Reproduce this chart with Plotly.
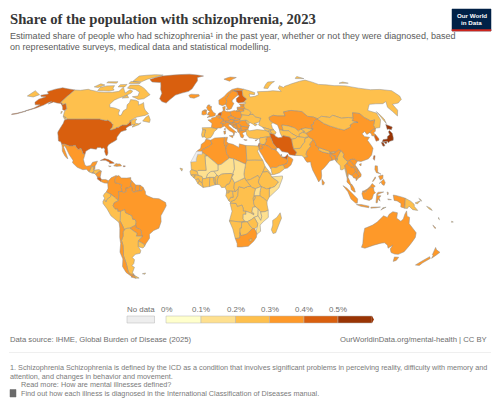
import plotly.graph_objects as go

W, H = 500, 407

# share of population with schizophrenia (%), estimated from the map colours
iso = ["USA","CAN","GRL","MEX","GTM","BLZ","SLV","HND","NIC","CRI","PAN","CUB","HTI","DOM","JAM","PRI","TTO",
       "COL","VEN","GUY","SUR","GUF","ECU","PER","BOL","BRA","PRY","URY","ARG","CHL","FLK",
       "ISL","IRL","GBR","NOR","SWE","FIN","DNK","EST","LVA","LTU","BLR","POL","DEU","NLD","BEL","FRA","ESP","PRT",
       "ITA","CHE","AUT","CZE","SVK","HUN","SVN","HRV","BIH","SRB","MNE","ALB","MKD","BGR","GRC","ROU","MDA","UKR",
       "TUR","RUS","CYP","KAZ","UZB","TKM","KGZ","TJK","AFG","PAK","IRN","IRQ","SYR","ISR","JOR","SAU","ARE","QAT",
       "KWT","OMN","YEM","GEO","AZE","ARM","IND","NPL","BTN","BGD","LKA","MMR","THA","LAO","KHM","VNM","MYS","IDN",
       "TLS","PNG","SLB","VUT","NCL","FJI","PHL","CHN","TWN","MNG","PRK","KOR","JPN",
       "MAR","DZA","TUN","LBY","EGY","SDN","SSD","ERI","ETH","SOM","KEN","UGA","RWA","TZA","COD","COG","GAB","GNQ",
       "CMR","CAF","TCD","NER","NGA","BEN","TGO","GHA","BFA","CIV","MLI","MRT","SEN","GNB","GIN","SLE","LBR","CPV",
       "AGO","NAM","BWA","ZMB","MWI","MOZ","ZWE","ZAF","LSO","MDG","AUS","NZL"]
share = [0.42,0.27,0.41,0.33,0.28,0.31,0.32,0.28,0.33,0.41,0.33,0.43,0.31,0.33,0.32,0.44,0.31,
         0.34,0.33,0.33,0.32,0.32,0.28,0.27,0.26,0.34,0.31,0.28,0.28,0.33,0.28,
         0.34,0.35,0.36,0.33,0.34,0.45,0.34,0.31,0.31,0.31,0.28,0.32,0.36,0.42,0.34,0.35,0.29,0.29,
         0.36,0.34,0.35,0.32,0.31,0.31,0.32,0.31,0.31,0.31,0.31,0.31,0.31,0.31,0.33,0.31,0.28,0.28,
         0.28,0.28,0.33,0.31,0.28,0.27,0.26,0.26,0.25,0.28,0.44,0.32,0.28,0.42,0.31,0.33,0.45,0.33,
         0.33,0.33,0.24,0.28,0.29,0.29,0.31,0.27,0.28,0.33,0.32,0.27,0.33,0.31,0.31,0.33,0.34,0.32,
         0.28,0.26,0.26,0.26,0.3,0.26,0.32,0.35,0.41,0.27,0.34,0.42,0.53,
         0.33,0.31,0.32,0.32,0.29,0.26,0.24,0.25,0.24,0.18,0.24,0.19,0.2,0.24,0.24,0.25,0.26,0.26,
         0.25,0.23,0.18,0.17,0.24,0.23,0.23,0.24,0.18,0.24,0.17,0.24,0.24,0.24,0.24,0.23,0.23,0.24,
         0.24,0.24,0.25,0.18,0.19,0.17,0.22,0.33,0.24,0.24,0.33,0.34]
no_data_iso = ["ESH"]

# outlines as "lon,lat lon,lat ..." rings, traced by eye from the map
outlines = {
 "USA": ["-124.7,48.4 -123,49 -116,49 -110,49 -102,49 -95.2,49 -94.6,48.7 -92,48.3 -89.6,48 -88.4,48.3 -84.9,46.9 -84.5,46.5 -83.6,46 -82.5,45.3 -82.1,43.6 -83.1,42.2 -82.7,41.7 -79,42.8 -79,43.3 -76.8,43.6 -76.3,44.2 -74.7,45 -71.5,45 -70.3,45.9 -69.2,47.4 -68.3,47.3 -67.8,45.7 -67,44.8 -68.8,44.4 -70.2,43.6 -70.8,42.8 -70,41.7 -72,41.2 -74,40.6 -74.9,38.9 -75.9,37.1 -75.5,35.3 -77.9,33.9 -79.2,33.2 -81,32 -81.4,30.5 -80.5,28.3 -80,26.7 -80.3,25.3 -81.1,25.1 -81.8,26.2 -82.8,27.8 -82.8,29 -84,30.1 -85.4,29.7 -86.5,30.4 -89,30.3 -89.4,29.2 -91.3,29.4 -93.8,29.7 -95,29.2 -97.1,27.9 -97.2,25.9 -99.1,26.4 -99.5,27.5 -101.4,29.8 -103.1,29 -104.7,30 -106.5,31.8 -108.2,31.3 -111,31.3 -114.8,32.5 -117.1,32.5 -118.5,34 -120.6,34.6 -122,36.9 -122.5,37.8 -123.8,39.5 -124.3,40.4 -124.1,43 -124,46.2",
         "-141,69.6 -141,65 -141,60.3 -139,59.9 -137.5,58.9 -135.5,59.7 -133.5,58.4 -130,55.9 -130.8,54.8 -133,55.3 -135,57 -137,58.2 -140,59.7 -144,60 -148,60.7 -151,59.3 -150,61 -152,60.5 -154,58.5 -158,56.5 -163,54.8 -164.8,54.6 -160,56.3 -157.5,58.7 -162,58.7 -165,60.5 -165,62.7 -161,64.4 -166,64.6 -168,65.6 -162,66.5 -166.5,68.3 -162,70.2 -156.6,71.3 -150,70.5",
         "-164,54.6 -170,52.9 -176,52 -176,51.6 -170,52.4 -164,54.2",
         "-155.9,20.2 -155,19.8 -155.7,19", "-158.2,21.6 -157.7,21.3 -158.1,21.3"],
 "CAN": ["-141,69.6 -135,69.3 -128,70.1 -125,69.5 -115,68.1 -108,67.8 -101,67.8 -95,68.5 -94.2,71.8 -90,69 -87.5,67.3 -85,69.7 -81.5,68.8 -81.5,67.2 -87,64.5 -90,63.5 -93,62 -94.5,59 -92.7,57 -88,56.5 -82.5,55.1 -82.2,52.9 -80.5,51.3 -79,51.6 -79,54.5 -77,56 -78.5,58.7 -77.5,60.2 -78,62.4 -73,62 -69.7,61 -68,58.5 -65.5,59.5 -64.5,60.3 -61.7,56.5 -60,55 -56,52.5 -58.5,51.4 -65,50.3 -67,49.3 -70,47.5 -65.5,49.2 -64.5,48.9 -65,47.5 -64.5,46.2 -61.5,45.8 -60,46.5 -61,45.3 -66,43.6 -66,44.5 -64.5,45.4 -67,45.2 -67.8,45.7 -68.3,47.3 -69.2,47.4 -70.3,45.9 -71.5,45 -74.7,45 -76.3,44.2 -76.8,43.6 -79,43.3 -79,42.8 -82.7,41.7 -83.1,42.2 -82.1,43.6 -82.5,45.3 -83.6,46 -84.5,46.5 -84.9,46.9 -88.4,48.3 -89.6,48 -92,48.3 -94.6,48.7 -95.2,49 -102,49 -110,49 -116,49 -123,49 -125,50 -128,51 -130,54 -130,55.9 -133.5,58.4 -135.5,59.7 -137.5,58.9 -139,59.9 -141,60.3 -141,65",
         "-62,66 -66,63 -71,62.5 -78,64.5 -73,65 -74,68 -80,70 -89,71 -89,73.5 -80,73.5 -72,71 -66,68",
         "-117,69 -105,68.7 -101,69.5 -104,71 -105,73 -113,72.8 -118,71.5",
         "-90,76.5 -80,76.2 -76,78.5 -68,80.5 -62,82.5 -72,83 -90,81.5 -90,78",
         "-92,74.7 -80,74.7 -80,75.6 -92,76.5", "-125,72 -120,71.5 -116,73.5 -122,74.5",
         "-117,75.3 -106,75 -106,76.2 -117,76.2", "-100,72 -93,72 -93,74 -100,73.8",
         "-59,47.6 -53,46.7 -53,48.5 -55.5,51.5 -57.5,50", "-128,50.8 -125,50 -123.5,48.4 -125,48.8",
         "-87,63.5 -81,63.8 -84,65.7", "-133,54 -131.7,54 -131.5,52.5"],
 "GRL": ["-73,78.2 -68,76 -58,75.5 -54,70 -51,67 -51,63 -48,61 -43.5,59.9 -41,62.5 -37,65.7 -25,68.5 -22,70.5 -20,74 -18,77 -19,80 -12,81.5 -30,83.5 -50,82.5 -62,81.5 -68,80"],
 "MEX": ["-117.1,32.5 -114.8,32.5 -111,31.3 -108.2,31.3 -106.5,31.8 -104.7,30 -103.1,29 -101.4,29.8 -99.5,27.5 -99.1,26.4 -97.2,25.9 -97.7,22.5 -96,19 -94.5,18.2 -91.8,18.6 -90.5,20.8 -87,21.5 -87.7,19.5 -88.3,18.5 -89.1,17.9 -91,17.8 -91,16.9 -92.2,14.5 -94.5,16.2 -97,15.9 -101.5,17.5 -105.5,20.4 -105.4,22 -109,25.6 -112.7,29.9 -114.7,31.7 -114.8,30.5 -111,25.5 -109.5,23.1 -110.3,23.3 -112.3,25 -115,28 -115.8,30.3"],
 "GTM": ["-92.2,14.5 -91,16.9 -91,17.8 -89.1,17.9 -89.2,15.9 -88.3,15.7 -89.2,14.3 -90.1,13.8"],
 "BLZ": ["-89.1,17.9 -88.3,18.5 -88.2,16.2 -89.2,15.9"],
 "SLV": ["-90.1,13.8 -89.2,14.3 -87.8,13.4"],
 "HND": ["-89.2,14.3 -88.3,15.7 -85,16 -83.2,15 -84.8,14.7 -87.3,13 -87.8,13.4"],
 "NIC": ["-87.3,13 -84.8,14.7 -83.2,15 -83.7,11 -85.7,11.1"],
 "CRI": ["-85.7,11.1 -83.7,11 -82.6,9.6 -83,8.3 -85.7,9.9"],
 "PAN": ["-83,8.3 -82.6,9.6 -79.5,9.6 -77.4,8.7 -77.9,7.2 -80.4,7.3 -81.8,7.8"],
 "CUB": ["-84.9,21.9 -82,23.2 -79,22.5 -75,20.7 -74.2,20.2 -77.7,19.9 -78,20.8 -81,22 -83,22.1"],
 "HTI": ["-74.4,18.4 -72,18.1 -71.7,19.7 -73,19.9"],
 "DOM": ["-72,18.1 -68.5,18.4 -69.8,19.7 -71.7,19.7"],
 "JAM": ["-78.3,18.4 -76.3,18.2 -77.2,17.8"],
 "PRI": ["-67.2,18.5 -65.7,18.4 -66,17.9 -67.2,17.9"],
 "TTO": ["-61.9,10.7 -61,10.8 -61,10.1 -61.9,10.1"],
 "COL": ["-77.4,8.7 -75.6,10.7 -72,12.2 -71.3,11.8 -72.5,10 -72.5,7.5 -70,7 -67.5,6.2 -67.8,4.5 -67.2,1.8 -69.8,1.7 -69.5,-0.5 -70,-4.2 -72,-2.4 -75.2,-0.1 -78.8,1.4 -77.5,3.8 -77.9,7.2"],
 "VEN": ["-71.3,11.8 -70,12.1 -68,10.6 -64,10.5 -62,10.7 -60,8.5 -61,6.8 -60.7,5.2 -62.8,4 -64.5,4 -64,1.9 -66,1 -67.2,1.8 -67.8,4.5 -67.5,6.2 -70,7 -72.5,7.5 -72.5,10"],
 "GUY": ["-60,8.5 -57.2,6 -57.5,3.3 -56.5,1.9 -58.8,1.2 -60,2.5 -59.8,4.5 -60.7,5.2 -61,6.8"],
 "SUR": ["-57.2,6 -54,5.9 -54.5,2.3 -56.5,1.9 -57.5,3.3"],
 "GUF": ["-54,5.9 -52,4.7 -51.6,4.2 -52.7,2.3 -54.5,2.3"],
 "ECU": ["-78.8,1.4 -75.2,-0.1 -75.5,-1.5 -78.3,-3.4 -79,-5 -80.4,-3.4 -80,-2.5 -81,-1 -80,0.5"],
 "PER": ["-80.4,-3.4 -79,-5 -78.3,-3.4 -75.5,-1.5 -75.2,-0.1 -72,-2.4 -70,-4.2 -73,-5.5 -74,-7.5 -72.5,-9.5 -70.6,-9.5 -70.6,-11 -68.7,-11 -69.2,-16 -69.5,-17.5 -70.4,-18.3 -76,-14 -78.5,-9.5 -81.3,-6 -81.3,-4.5"],
 "BOL": ["-68.7,-11 -65.5,-9.8 -65,-12 -60.5,-13.8 -60,-16.2 -58.3,-16.3 -57.6,-18 -58.2,-20 -62.7,-22 -65,-22.1 -67,-23 -68.4,-19.5 -69.5,-17.5 -69.2,-16"],
 "BRA": ["-51.6,4.2 -50,1.7 -50,0 -48.5,-1 -44.3,-2.6 -40,-2.9 -35.2,-5.4 -34.8,-7.5 -37,-11 -39,-14 -39,-17.8 -41,-22 -45,-23.5 -48.5,-26 -48.7,-28.5 -52,-32 -53.4,-33.7 -53.5,-32.5 -57.6,-30.2 -54,-27.2 -54.6,-25.6 -54.3,-24 -55.8,-22.3 -57.9,-22 -58.2,-20 -57.6,-18 -58.3,-16.3 -60,-16.2 -60.5,-13.8 -65,-12 -65.5,-9.8 -68.7,-11 -70.6,-11 -70.6,-9.5 -72.5,-9.5 -74,-7.5 -73,-5.5 -70,-4.2 -69.5,-0.5 -69.8,1.7 -67.2,1.8 -66,1 -64,1.9 -64.5,4 -62.8,4 -60.7,5.2 -59.8,4.5 -60,2.5 -58.8,1.2 -56.5,1.9 -54.5,2.3 -52.7,2.3"],
 "PRY": ["-58.2,-20 -57.9,-22 -55.8,-22.3 -54.3,-24 -54.6,-25.6 -54,-27.2 -58.6,-27.2 -57.7,-25.3 -60,-24 -62.7,-22"],
 "URY": ["-57.6,-30.2 -53.5,-32.5 -53.4,-33.7 -54.9,-34.9 -58.4,-34 -58.1,-32"],
 "ARG": ["-65,-22.1 -62.7,-22 -60,-24 -57.7,-25.3 -58.6,-27.2 -54,-27.2 -57.6,-30.2 -58.1,-32 -58.4,-34 -57,-36.5 -58,-38.3 -62,-39 -65,-41 -63.8,-42.5 -65.3,-45 -67.5,-46.5 -65.8,-47.5 -69,-51 -68.4,-52.4 -72,-52 -72.3,-50 -71.5,-45 -71.7,-40 -70.5,-36 -70,-33 -70.4,-30 -68.5,-27 -68.3,-24.5 -67,-23",
         "-68.6,-52.7 -65.3,-54.8 -68.6,-54.9"],
 "CHL": ["-70.4,-18.3 -69.5,-17.5 -68.4,-19.5 -67,-23 -68.3,-24.5 -68.5,-27 -70.4,-30 -70,-33 -70.5,-36 -71.7,-40 -71.5,-45 -72.3,-50 -72,-52 -68.4,-52.4 -71,-53.8 -74.5,-51 -75.5,-47 -73,-42 -73.7,-37.5 -71.5,-32 -71.3,-28 -70.3,-22",
         "-68.6,-52.7 -68.6,-54.9 -72,-54"],
 "FLK": ["-61,-51.8 -58,-51.3 -59,-52.2"],
 "ISL": ["-24,65.5 -22,66.4 -18,66.2 -14.5,66.2 -13.6,65 -18.5,63.4 -22.5,63.9"],
 "IRL": ["-10,52 -10,54.2 -8,55.2 -7.3,55.2 -8,54.5 -6.2,54.2 -6,52.2 -8.5,51.7"],
 "GBR": ["-5.5,50 -1,50.7 1.4,51.2 1.7,52.7 0,53.4 -1.6,55.2 -2,56 -1.8,57.6 -4,57.6 -3,58.6 -5,58.6 -6.2,56.8 -4.9,55 -3,54 -4.5,53.3 -5.2,51.8 -3,51.4",
         "-6.2,54.2 -8,54.5 -7.3,55.2 -5.7,55"],
 "NOR": ["5,59 5,62 10,64.5 14,67.5 19,70 25,71.1 31,70.2 29,69 25.5,69 20.5,69 18,68.5 15,66 14,64.5 12,63.5 12.3,61 11.2,59 8,58.1",
         "12,78.5 20,80.5 27,80 18,76.7"],
 "SWE": ["11.2,59 12.3,61 12,63.5 14,64.5 15,66 18,68.5 20.5,69 23.7,67.9 24,65.8 21.5,64.5 17.5,62 17.3,60.6 18.8,59.8 16.5,57 16,56.2 14.3,55.5 13,55.4 11.8,57.5"],
 "FIN": ["20.5,69 25.5,69 29,69 28.5,65 31.5,62.9 27.8,60.5 23,59.9 21.4,61 21.5,63 25,65 24,65.8 23.7,67.9"],
 "DNK": ["8.2,57 10.6,57.7 10.3,56 9.9,54.8 8.6,54.9", "11,55.7 12.5,56 12.3,55"],
 "EST": ["23.5,59.2 28,59.4 27.5,57.6 24.5,58"],
 "LVA": ["21,57 24,57.2 24.5,58 27.5,57.6 28,56 26.5,55.7 21,56.1"],
 "LTU": ["21,56.1 26.5,55.7 26.7,54.3 23.5,54 22.8,54.4 21,55.3"],
 "BLR": ["23.5,54 26.7,54.3 26.5,55.7 28,56 31,55 32.7,53.4 31,52 30.5,51.3 24,51.7 23.6,52.6"],
 "POL": ["14.2,53.9 18.5,54.8 19.8,54.4 22.8,54.4 23.5,54 23.6,52.6 24,51.7 24,50.5 22.6,49.1 19,49.5 15,51 14.7,52.5"],
 "DEU": ["6.9,53.5 8.6,54.9 9.9,54.8 11,54 14.2,53.9 14.7,52.5 15,51 12.2,50.3 13.8,48.7 13,47.5 9.6,47.5 7.6,47.6 8.2,49 6.3,49.5 6,50.2 5.8,50.8 6,51 7,52.3"],
 "NLD": ["3.4,51.4 4.7,53 6.9,53.5 7,52.3 6,51 5.8,50.8 5,51.4"],
 "BEL": ["2.5,51.1 3.4,51.4 5,51.4 5.8,50.8 6,50.2 5.8,49.5 4,50"],
 "FRA": ["2.5,51.1 4,50 5.8,49.5 6.3,49.5 8.2,49 7.6,47.6 6,46.2 7.7,45.9 7.5,43.8 6,43 3.1,43 3,42.4 -1.8,43.3 -1.2,46 -4.7,48.4 -1.5,48.7 -1.6,49.7 1.5,50.1",
         "8.6,42.3 9.5,43 9.5,41.5"],
 "ESP": ["-9.2,43.2 -1.8,43.3 3,42.4 0.5,40.6 -0.3,39 -2,36.8 -5.5,36 -6.9,37.2 -7.4,37.2 -7,39.5 -6.3,41.7 -8.8,41.9"],
 "PRT": ["-8.8,41.9 -6.3,41.7 -7,39.5 -7.4,37.2 -8.9,37 -9.5,38.7"],
 "ITA": ["7.7,45.9 9,45.9 10.5,46.8 13.7,46.5 13.6,45.5 12.3,45.3 12.5,44.2 13.6,43.5 16,41.9 18.5,40.1 17,40.4 16.6,39.2 16,38 15.7,40 12.5,41.4 10.5,43 8.8,44.4 7.5,43.8",
         "12.4,38 15.6,38.2 15,36.7", "8.2,41 9.7,41 9.5,39.1 8.5,39"],
 "CHE": ["6,46.2 7.6,47.6 9.6,47.5 10.5,46.8 9,45.9 7.7,45.9"],
 "AUT": ["9.6,47.5 13,47.5 13.8,48.7 16.9,48.6 17,47.7 16,46.7 13.7,46.5 10.5,46.8"],
 "CZE": ["12.2,50.3 15,51 19,49.5 16.9,48.6 13.8,48.7"],
 "SVK": ["16.9,48.6 19,49.5 22.6,49.1 22.1,48.4 18.8,47.9 17,47.7"],
 "HUN": ["17,47.7 18.8,47.9 22.1,48.4 22.9,47.9 21,46.2 18.8,45.9 16,46.7"],
 "SVN": ["13.7,46.5 16,46.7 15.5,45.5 13.6,45.5"],
 "HRV": ["13.6,45.5 15.5,45.5 16,46.7 18.8,45.9 19,45 16,45 15.8,44.2 18.5,42.5 16,43.5 15,44.6"],
 "BIH": ["16,45 19,45 19.2,43.5 18.5,42.5 15.8,44.2"],
 "SRB": ["19,45 18.8,45.9 21,46.2 22.5,44.2 22.5,42.4 21,42.5 20,42.8 19.2,43.5"],
 "MNE": ["18.5,42.5 19.2,43.5 20,42.8 19.3,41.9"],
 "ALB": ["19.3,41.9 20,42.8 21,42.5 20.8,41 20.6,40 19.4,40.4"],
 "MKD": ["21,42.5 22.5,42.4 23,41.3 20.8,41"],
 "BGR": ["22.5,44.2 28.6,43.7 27.7,42 26.3,41.8 23,41.3 22.5,42.4"],
 "GRC": ["20.6,40 20.8,41 23,41.3 26.3,41.8 26,40.8 23.5,40 23,39.3 24,38 23,36.5 21.5,37 21,38.5", "23.6,35.5 26.3,35.2 24.8,34.9"],
 "ROU": ["21,46.2 22.9,47.9 26.6,48.2 28.2,45.5 29.6,45 28.6,43.7 22.5,44.2"],
 "MDA": ["26.6,48.2 28,48.1 30,46.4 28.2,45.5"],
 "UKR": ["22.1,48.4 22.6,49.1 24,50.5 24,51.7 30.5,51.3 31,52 34,52.3 35.5,50.4 40,49.6 38.2,47.1 35,46.2 33.5,46 36,45.4 34,44.4 32.6,45.5 30.7,46.4 30,46.4 28,48.1 26.6,48.2 22.9,47.9"],
 "TUR": ["26,40.8 26.3,41.8 27.7,42 29,41.2 35,42 41.6,41.5 43.7,41 44.8,39.7 44.8,37.2 42.3,37.2 36.5,36.6 36,36 32,36.1 30.5,36.4 28,36.6 26.3,38.5 26.2,39.8"],
 "RUS": ["28,59.4 30,60 27.8,60.5 31.5,62.9 28.5,65 29,69 31,70.2 36,69 41,67.5 40,66 35,66.5 35,64.3 40,64.8 44,66 44,68.3 54,68.5 60,69 68,68.5 67,71 70,73 73,71.5 75,72.5 80,73.5 90,75.5 104,77.7 113,74 128,73 140,72.8 150,71 160,69.8 170,70 180,69 180,65 177,62.5 170,60 163,59 162,55 156.8,51 155.7,57 160,61 155,59.5 142,59 135.5,54.8 141,53 140,48.5 135,43.3 132,43 130.7,42.5 131,44.8 135,48.4 131,47.7 127.5,50 126,52.7 120.5,53.2 117.8,49.5 114,50 108,49.5 102,51.5 98.5,50 92,50.8 87.8,49.2 85,50.2 80,50.8 77,54 71,54.5 68,54.8 61,53.8 61,51 55,51 51,51.5 47,50 47,48.2 49,46.5 47.5,45.5 47.7,43.2 48.5,41.8 46.5,41.8 40,43.5 37,45 38.2,47.1 40,49.6 35.5,50.4 34,52.3 31,52 32.7,53.4 31,55 28,56 27.5,57.6",
         "19.8,54.4 22.8,54.4 21,55.3", "-180,69 -175,67.5 -170,66 -173,64.3 -180,65", "142,54 143.5,49 142.5,46 142,49",
         "52,71 56,70.7 68,76.5 60,76", "95,79 105,79 100,81", "137,75 147,75 143,76"],
 "CYP": ["32.3,35 34.5,35.6 33,34.6"],
 "KAZ": ["47,48.2 47,50 51,51.5 55,51 61,51 61,53.8 68,54.8 71,54.5 77,54 80,50.8 85,50.2 87.3,49.1 83,47 82.3,45.5 80,45 80.3,42.2 74.5,43 70.5,42.3 68,41 66,43 61,44.4 56,45 56,41.3 53,42 52.5,45 49,46.5"],
 "UZB": ["56,45 61,44.4 66,43 68,41 70.5,42.3 73,40.8 71,40.2 68,39 67.5,37.2 66,37.4 62,39.5 60.5,41.2 56,41.3"],
 "TKM": ["53,42 56,41.3 60.5,41.2 62,39.5 66,37.4 64.5,36.3 61,35.6 60,37 55,38 53.9,37.3 53,40"],
 "KGZ": ["70.5,42.3 74.5,43 80.3,42.2 76,40.4 73.7,39.5 71,40.2 73,40.8"],
 "TJK": ["68,39 71,40.2 73.7,39.5 75,37.4 74.8,37.2 71.5,36.8 67.5,37.2"],
 "AFG": ["61,35.6 64.5,36.3 66,37.4 67.5,37.2 71.5,36.8 74.8,37.2 71.5,36 70.8,33.8 69.5,33 66.3,29.8 61,29.5 60.9,31.5 60.8,33.5"],
 "PAK": ["61,29.5 66.3,29.8 69.5,33 70.8,33.8 71.5,36 74.8,37.2 77.8,35.5 74.3,32.5 74.5,31 71,28 70,26 71,24.4 68.2,23.7 66.8,25 61.6,25.2 63,27.2"],
 "IRN": ["44.8,39.7 48,39 49,37.5 51,36.7 54,37 53.9,37.3 55,38 60,37 61,35.6 60.8,33.5 60.9,31.5 61,29.5 63,27.2 61.6,25.2 57.5,25.6 56.5,27.1 52,27.7 50,30 48.5,30 47.7,31 46,33 45.5,35 44.8,37.2"],
 "IRQ": ["44.8,37.2 45.5,35 46,33 47.7,31 48.5,30 47.7,29.4 46.5,29.1 44.7,29.2 42,31.2 39,32.2 41,34.5 41,36 42.3,37.2"],
 "SYR": ["36,36 36.5,36.6 42.3,37.2 41,36 41,34.5 39,32.2 36.8,32.4 35.9,33.3 35.9,35"],
 "ISR": ["34.9,29.5 34.2,31.3 35,33 35.9,33.3 35.6,32.5 35.4,31.3"],
 "JOR": ["34.9,29.5 35.4,31.3 35.6,32.5 36.8,32.4 39,32.2 37,31 38,30 36,29.2"],
 "SAU": ["34.9,29.5 36,29.2 38,30 37,31 39,32.2 42,31.2 44.7,29.2 46.5,29.1 47.7,28.5 48.8,27.5 50.2,25.6 50.8,24.8 51.6,24.2 55.2,22.7 55.7,22 55,20 52,19 49,18.5 46.8,17.3 43.4,17.5 42.7,16.4 41,19 39,21.5 37,25 35,28"],
 "ARE": ["51.6,24.2 54,24.2 56,26 56.3,24.9 55.9,24 55.2,22.7"],
 "QAT": ["50.8,24.8 51.2,26.1 51.6,25"],
 "KWT": ["46.5,29.1 47.7,28.5 48.3,29.5 47.7,29.4"],
 "OMN": ["55.2,22.7 55.9,24 56.3,24.7 58.6,23.6 59.8,22.5 57.8,19 55,17 53,16.7 52,19 55,20 55.7,22"],
 "YEM": ["43.4,17.5 46.8,17.3 49,18.5 52,19 53,16.7 49,14 45,12.8 43.5,12.7 42.7,16.4"],
 "GEO": ["40,43.5 46.5,41.8 46,41 43.7,41 41.6,41.5"],
 "AZE": ["46.5,41.8 48.5,41.8 50,40.3 49,39 48,39 46,39.5 45.5,41 46,41"],
 "ARM": ["43.7,41 45.5,41 46,39.5 44.8,39.7"],
 "IND": ["68.2,23.7 71,24.4 70,26 71,28 74.5,31 74.3,32.5 77.8,35.5 79,32.8 78.8,31.3 81,30.2 80,28.8 83,27.4 88,26.4 88.2,27.9 88.8,27.3 89,26.7 92,26.9 95.5,29 97.3,28.3 95,26 93.5,24 93,22 92,23.6 91.5,24 92,25 89.8,25.3 88.5,26.4 88,24.5 89,24 89,22 87,21.5 85,19.5 82,16.8 80,15.5 80,12 79.5,10 77.5,8 76,11 73.6,15.8 72.8,19 72.8,21 70,20.8 68.9,22.3"],
 "NPL": ["81,30.2 88.2,27.9 88,26.4 83,27.4 80,28.8"],
 "BTN": ["88.8,27.3 92,27.8 92,26.9 89,26.7"],
 "BGD": ["88.5,26.4 89.8,25.3 92,25 91.5,24 92,23.6 92.4,20.8 91,22.5 89,22 89,24 88,24.5"],
 "LKA": ["80,9.7 81.8,7.5 81,6.1 80,6.2"],
 "MMR": ["92.4,20.8 92,23.6 93,22 93.5,24 95,26 97.3,28.3 98.7,25.9 97.7,24.2 99.5,22 101.1,21.5 100.1,20.4 97.7,18.5 98.6,15.8 99,11 98.7,10.2 98,14 97.5,16.8 95.5,15.8 94.3,16 94.5,18.5"],
 "THA": ["100.1,20.4 100.5,19.5 102,17.9 104.8,17.4 105.5,14.5 102.5,12.2 101,12.7 100,13.4 99.3,11 100,9.5 101,6.8 102,6.2 100.8,5.6 99.6,6.7 98.3,8 98.7,10.2 99,11 98.6,15.8 97.7,18.5"],
 "LAO": ["100.1,20.4 101.1,21.5 102.2,22.4 103.5,20.5 105,18.7 106.8,16.4 107.5,15 106,13.9 105.5,14.5 104.8,17.4 102,17.9 100.5,19.5"],
 "KHM": ["102.5,12.2 105.5,14.5 106,13.9 107.5,12.5 106,10.8 105,10.4 103.5,10.6"],
 "VNM": ["102.2,22.4 105.5,23 108,21.6 105.7,19 107,17 109.3,13 109,11.5 106.8,10.4 105.2,8.7 105,10.4 106,10.8 107.5,12.5 106,13.9 107.5,15 106.8,16.4 105,18.7 103.5,20.5"],
 "MYS": ["100.8,5.6 102,6.2 103.4,4 104.2,1.4 103.4,1.5 101.3,3",
         "109.6,2 111.3,1.2 113,3 115.8,4.7 117.6,4.2 119,5.2 116.8,7 115.2,5 113,3.4 111,2.4"],
 "IDN": ["95.3,5.6 98,4 103.6,-1 106,-3 105.8,-5.8 104.5,-5.7 101,-3 98.7,1.7", "105.2,-6.7 108.5,-6.6 114.5,-7.7 114.5,-8.7 108.5,-7.8",
         "109,0.3 109.6,2 111.3,1.2 113,3 115.8,4.7 117.6,4.2 118,2 119,1 117.5,0 116.5,-3 114.5,-4 110.2,-3",
         "119.5,-5.5 120,0.5 121,1.3 125,1.5 120.7,0 120.5,-1 123,-1 121.7,-2.5 122.5,-4.5 121,-3 120.5,-5.5",
         "132,-0.5 134,-0.8 138,-1.7 141,-2.6 141,-9.1 138,-8.2 138,-6 135,-4.3 132.8,-4",
         "116,-8.4 119,-8.3 123,-8.3 119.8,-8.8 116,-9", "123.5,-10.3 125,-8.7 125,-9.4", "128,-3 130.8,-3.5 128.5,-3.6", "127.5,1.5 128,-0.5 128.5,1"],
 "TLS": ["125,-8.7 127.2,-8.4 125,-9.4"],
 "PNG": ["141,-2.6 145,-4.5 147.7,-6.5 148,-8 150.8,-10.5 147,-10 144,-7.7 143,-9.2 141,-9.1", "148.3,-5.6 152.2,-4.2 150,-6.3", "150.8,-2.7 153,-4.5 152.5,-3.5"],
 "SLB": ["157,-7.8 160,-9 161.5,-10.5 159,-9.5"],
 "VUT": ["167,-15 168,-16.5 167.2,-16"],
 "NCL": ["164,-20 167,-22 166,-22"],
 "FJI": ["177.3,-17.5 178.7,-18 177.4,-18.2"],
 "PHL": ["120.5,18.5 122.2,18.4 122,16 121.7,14.4 124,13 123,13.5 120.7,14 119.9,16", "122,7 125.5,9.8 126.5,7.5 125.5,5.7 124,6.5 123.5,8",
         "122,11.8 125.4,12.5 125,10.2 123,9.2", "117.2,8.4 119.5,11.3 119.7,10.5 117.5,8.2"],
 "CHN": ["73.7,39.5 76,40.4 80.3,42.2 80,45 82.3,45.5 83,47 85.7,48.4 87.3,49.1 91,46 95.5,44.2 101,42.6 105,41.7 111.5,43.7 111.8,45 116,46.7 119.7,46.7 115.6,47.9 117.8,49.5 120.5,53.2 126,52.7 127.5,50 131,47.7 135,48.4 131,44.8 130.7,42.5 128,42 124.4,40 121.5,38.8 121,40.8 118,39.2 119,37.4 122.6,37 120,35 121.5,31.5 122,29.8 119.5,25.5 116.5,23 113.5,22.1 110.5,21.2 108,21.6 105.5,23 102.2,22.4 101.1,21.5 99.5,22 97.7,24.2 98.7,25.9 97.3,28.3 95.5,29 92,26.9 92,27.8 88.8,27.3 88.2,27.9 81,30.2 78.8,31.3 79,32.8 77.8,35.5 74.8,37.2 75,37.4",
         "108.7,19.3 110.5,20 110,18.4"],
 "TWN": ["121,25 122,25 120.8,22 120.1,23"],
 "MNG": ["87.8,49.2 92,50.8 98.5,50 102,51.5 108,49.5 114,50 117.8,49.5 115.6,47.9 119.7,46.7 116,46.7 111.8,45 111.5,43.7 105,41.7 101,42.6 95.5,44.2 91,46 87.3,49.1"],
 "PRK": ["124.4,40 128,42 130.7,42.5 129.7,41 127.5,39.8 128.4,38.6 126.7,37.8 125,38 125.3,39.5"],
 "KOR": ["126.7,37.8 128.4,38.6 129.4,36 129,35.1 126.4,34.4 126.5,36.5"],
 "JPN": ["130.9,34 132.5,35.5 135.8,35.8 137,37.5 139.5,38.7 139.8,40.5 141.3,41.4 142.2,39.5 141,36.5 140,35 137,34.4 135.5,33.4 135,34.4 132.5,34", "130,33.6 131.6,33.8 131.8,31.4 130.2,31.2",
         "132.3,33.8 134.5,34.3 134.2,33.2 133,32.7", "140,42 141.5,45.4 145.4,43.7 143.2,41.9 141,42.4"],
 "MAR": ["-5.9,35.8 -2.2,35.1 -1.1,32.6 -3.6,31 -8.7,28.7 -8.7,27.7 -13,27.7 -9.8,29.8 -9.4,32.5 -6.8,34"],
 "DZA": ["-2.2,35.1 1,36.5 8.6,36.9 8.3,33 9.5,30.2 9.9,26.5 12,23.5 5.8,19.4 3.3,19 1.1,20.7 -4.8,25 -8.7,27.3 -8.7,28.7 -3.6,31 -1.1,32.6"],
 "TUN": ["8.6,36.9 11,37 10.2,34.3 11.5,33.1 9.5,30.2 8.3,33"],
 "LBY": ["11.5,33.1 15,32.4 19.5,30.4 20,32.7 25,31.6 25,22 24,19.5 15,23 12,23.5 9.9,26.5 9.5,30.2"],
 "EGY": ["25,31.6 31,31.5 34.3,31.3 34.9,29.5 33.5,28 35.5,24 37,22 25,22"],
 "SDN": ["25,22 37,22 38.5,18 36.5,14.3 34,10.5 32.9,12.2 27,9.5 24,9 23,10.7 22.5,13 23,15.7 24,19.5"],
 "SSD": ["24,9 27,9.5 32.9,12.2 34,10.5 33,7.9 35,5 30.8,3.6 28,4.5 27.4,5.2"],
 "ERI": ["36.5,14.3 38.5,18 43.1,12.7 42.4,12.5 40,14.8"],
 "ETH": ["34,10.5 36.5,14.3 40,14.8 42.4,12.5 43,11.3 48,8 44.9,4.9 42,4 39,3.5 35.9,4.6 35,5 33,7.9"],
 "SOM": ["43,11.3 51,11.9 51,10.5 48,4 42,-1 41,-1.7 41,3.9 42,4 44.9,4.9 48,8"],
 "KEN": ["35.9,4.6 39,3.5 42,4 41,3.9 41,-1.7 39.3,-4.7 37.7,-3.1 34,-1 34,1 35,5"],
 "UGA": ["30.8,3.6 35,5 34,1 34,-1 30.5,-1 29.6,-1.4 30,1"],
 "RWA": ["29.6,-1.4 30.5,-1 30.8,-2.4 29.4,-4.4 29,-2.7"],
 "TZA": ["30.5,-1 34,-1 37.7,-3.1 39.3,-4.7 39.5,-7 40.4,-10.4 38,-11.3 34.9,-11.5 33,-9.5 30.8,-8.2 29.6,-6.5 29.4,-4.4 30.8,-2.4"],
 "COD": ["12.2,-5.8 13,-4.6 16,-3.5 17.7,-1 18,3.5 18.6,5 22.5,4 25,5 27.4,5.2 28,4.5 30.8,3.6 30,1 29.6,-1.4 29,-2.7 29.4,-4.4 29.6,-6.5 30.8,-8.2 28.9,-8.5 28.4,-11.8 29.8,-12.2 29.8,-13.4 27.5,-12.2 24,-11 22,-11 22,-9.5 21,-7 17.6,-8 16.6,-6"],
 "COG": ["11.2,-4.2 12.7,-1.9 14.4,-2 14,1.3 13.3,2.2 16.1,1.8 18,3.5 17.7,-1 16,-3.5 13,-4.6 12.2,-5"],
 "GAB": ["9,-1 9.5,1 11.3,1 11.3,2.3 13.3,2.2 14,1.3 14.4,-2 12.7,-1.9 11.2,-4.2"],
 "GNQ": ["9.6,2.2 11.3,2.3 11.3,1 9.5,1"],
 "CMR": ["8.5,4.6 9.6,2.2 11.3,2.3 13.3,2.2 16.1,1.8 15,4 15.5,7.5 13.5,11 15,13 14,13 13,10 11.5,6.8 9.8,6.5 8.8,5"],
 "CAF": ["15,4 16.1,1.8 18,3.5 18.6,5 22.5,4 25,5 27.4,5.2 24,9 23,10.7 19,9 15.5,7.5"],
 "TCD": ["14,13 15.5,16.5 15,23 24,19.5 23,15.7 22.5,13 23,10.7 19,9 15.5,7.5 13.5,11 15,13"],
 "NER": ["3.6,11.7 2.5,12.5 1,14 0,15 3.3,15.4 3.3,19 5.8,19.4 12,23.5 15,23 15.5,16.5 14,13 13,13.5 8,13.3 6,13"],
 "NGA": ["2.7,6.4 2.7,9 3.6,11.7 6,13 8,13.3 13,13.5 14,13 13,10 11.5,6.8 9.8,6.5 8.8,5 8.5,4.6 6,4.3 4.5,6.2"],
 "BEN": ["1.6,6.2 0.9,10.9 2.5,12.5 3.6,11.7 2.7,9 2.7,6.4"],
 "TGO": ["1.2,6.1 0.2,8.2 0,11 0.9,10.9 1.6,6.2"],
 "GHA": ["-3,5 -2.8,11 0,11 0.2,8.2 1.2,6.1"],
 "BFA": ["-5.5,10.5 -4.5,13 -2,14.8 0,15 1,14 2.5,12.5 0.9,10.9 0,11 -2.8,11"],
 "CIV": ["-7.6,4.4 -8.5,7.5 -8,10.2 -6,10.2 -5.5,10.5 -2.8,11 -3,5"],
 "MLI": ["-12.2,14.8 -11.5,15.5 -5.5,15.5 -6.5,25 -4.8,25 1.1,20.7 3.3,19 3.3,15.4 0,15 -2,14.8 -4.5,13 -5.5,10.5 -6,10.2 -8,10.2 -8.5,11.5 -11.3,12.2"],
 "MRT": ["-16.5,16 -17,21 -13,21.3 -13,23 -12,26 -8.7,26 -8.7,27.3 -4.8,25 -6.5,25 -5.5,15.5 -11.5,15.5 -12.2,14.8"],
 "SEN": ["-17.5,14.7 -16.5,16 -12.2,14.8 -11.3,12.2 -13.7,12.6 -16.7,12.4"],
 "GNB": ["-16.7,12.4 -13.7,12.6 -13.7,11 -15,11"],
 "GIN": ["-13.7,12.6 -11.3,12.2 -8.5,11.5 -8,10.2 -8.5,7.5 -10.5,8.5 -11,10 -13.2,9.5 -15,11 -13.7,11"],
 "SLE": ["-13.2,9.5 -11,10 -10.5,8.5 -11.5,6.9"],
 "LBR": ["-11.5,6.9 -10.5,8.5 -8.5,7.5 -7.6,4.4"],
 "CPV": ["-25,17 -23,16.5 -23.5,15"],
 "AGO": ["12.2,-5.8 16.6,-6 17.6,-8 21,-7 22,-9.5 22,-11 24,-11 24,-13 22,-13 22,-16 23.4,-17.5 20,-18 14,-17.4 11.8,-17.3 13.7,-11 13,-8.7"],
 "NAM": ["11.8,-17.3 14,-17.4 20,-18 23.4,-17.5 25.2,-17.8 23.4,-18 21,-18.3 21,-22 20,-22 20,-28.4 17,-28.7 16.5,-28.5 14.5,-22.5"],
 "BWA": ["21,-18.3 23.4,-18 25.2,-17.8 27.5,-20.5 29.3,-22.2 26.5,-24.7 25.2,-25.8 22.7,-26.5 20.7,-26.8 20,-24.8 20,-22 21,-22"],
 "ZMB": ["24,-11 27.5,-12.2 29.8,-13.4 29.8,-12.2 28.4,-11.8 28.9,-8.5 30.8,-8.2 33,-9.5 33,-12 33,-14 30.2,-15 28,-16.5 25.2,-17.8 23.4,-17.5 22,-16 22,-13 24,-13"],
 "MWI": ["33,-9.5 34.9,-11.5 35.8,-14.5 35.2,-17 33,-14 33,-12"],
 "MOZ": ["34.9,-11.5 38,-11.3 40.4,-10.4 40.7,-15 37,-17.9 34.9,-20 35.5,-24 32.8,-26 32,-24 32.8,-21 33,-19 30.2,-15 33,-14 35.2,-17 35.8,-14.5"],
 "ZWE": ["25.2,-17.8 28,-16.5 30.2,-15 33,-19 32.8,-21 31,-22.4 29.3,-22.2 27.5,-20.5"],
 "ZAF": ["16.5,-28.5 17,-28.7 20,-28.4 20,-24.8 20.7,-26.8 22.7,-26.5 25.2,-25.8 26.5,-24.7 29.3,-22.2 31,-22.4 32,-24 32.8,-26 32.6,-28 30.8,-30.5 27,-33.7 22,-34.2 18.4,-34.2 18.2,-32"],
 "LSO": ["27,-29.5 29,-28.7 29.4,-30 28,-30.7"],
 "MDG": ["49.3,-12 50.5,-15.5 49.5,-18 47,-25 45,-25.5 43.5,-23 44.3,-20 44,-17 47,-15"],
 "AUS": ["113.5,-22 113.5,-26 115,-32 115,-34.4 118,-35 124,-33 129,-31.7 131.5,-31.5 134.5,-33 136,-35 138.5,-33 138,-35.5 140,-37.8 143.5,-38.8 146.5,-39 150,-37.3 151.5,-33.5 153.5,-28 153,-25 149.5,-22 146,-19 145.5,-15 143.5,-14.2 142.6,-10.8 141.6,-13 141,-16 139.5,-17.5 136,-15.5 136,-12 132.5,-11.3 130,-13 129,-15 126,-14 122,-18 119,-20 114.5,-21.8",
         "144.7,-40.7 148.3,-40.9 148,-43 146,-43.6"],
 "NZL": ["172.7,-34.5 174.5,-36 178.5,-37.7 177,-39.5 175.3,-41.6 174.8,-39.8 173.8,-39.3", "172.7,-40.5 174.3,-41.7 171,-44.5 170,-46.3 166.5,-46 168.5,-44"],
 "ESH": ["-8.7,27.7 -13,27.7 -17,21 -13,21.3 -13,23 -12,26 -8.7,26"],
}

legend_ticks = ["0%", "0.1%", "0.2%", "0.3%", "0.4%", "0.5%"]
legend_colors = ["#ffffcc", "#fee08f", "#fec04d", "#fe9929", "#d95f0e", "#993404"]
no_data_color = "#eeeeee"


def ring(text):
    pts = [[float(v) for v in p.split(",")] for p in text.split()]
    area = sum(a[0] * b[1] - b[0] * a[1] for a, b in zip(pts, pts[1:] + pts[:1]))
    if area > 0:  # d3 wants exterior rings clockwise
        pts.reverse()
    return pts + [pts[0]]


def country_trace(code, fill, line="#8f8f8f"):
    lon, lat = [], []
    for r in outlines[code]:
        pts = ring(r)
        lon += [p[0] for p in pts] + [None]
        lat += [p[1] for p in pts] + [None]
    return go.Scattergeo(lon=lon, lat=lat, mode="lines", fill="toself", fillcolor=fill,
                         line=dict(color=line, width=0.5), name=code, hoverinfo="name", showlegend=False)


def px(x):
    return x / W


def py(y):
    return 1 - y / H


fig = go.Figure()
for code, value in zip(iso, share):
    fig.add_trace(country_trace(code, legend_colors[min(int(value * 10), 5)]))
for code in no_data_iso:
    fig.add_trace(country_trace(code, no_data_color, "#bbbbbb"))

fig.update_geos(domain=dict(x=[0, 1], y=[py(290), py(60)]),
                projection_type="robinson", projection_rotation_lon=0, projection_scale=0.97,
                center=dict(lon=27, lat=12.5),
                lonaxis_range=[-160, 180], lataxis_range=[-60, 85],
                showland=False, showocean=False, showlakes=False, showrivers=False,
                showcountries=False, showcoastlines=False, showframe=False, bgcolor="rgba(0,0,0,0)")

notes = []


def text(x, y, s, size, color="#5b5b5b", family="Liberation Sans", anchor="left"):
    notes.append(dict(x=px(x), y=py(y), xref="paper", yref="paper", text=s, showarrow=False,
                      xanchor=anchor, yanchor="middle", align=anchor, borderpad=0,
                      font=dict(size=size, color=color, family=family)))


text(9, 19, "<b>Share of the population with schizophrenia, 2023</b>", 14.7, "#363636", "Liberation Serif")
text(9, 36, "Estimated share of people who had schizophrenia¹ in the past year, whether or not they were diagnosed, based", 9.05)
text(9, 47, "on representative surveys, medical data and statistical modelling.", 9.05)
text(471.5, 15.5, "<b>Our World</b>", 6.2, "white", anchor="center")
text(471.5, 23, "<b>in Data</b>", 6.2, "white", anchor="center")

text(140.5, 309, "No data", 7.9, "#6e6e6e", anchor="center")
edges = [166, 201, 235.5, 269.5, 304, 338, 372]
for tick, ex in zip(legend_ticks, edges):
    text(ex, 309, tick, 7.9, "#6e6e6e", anchor="center")

text(9, 339, "Data source: IHME, Global Burden of Disease (2025)", 7.7, "#6e6e6e")
text(488, 339, "OurWorldinData.org/mental-health | CC BY", 7.7, "#6e6e6e", anchor="right")
text(9, 367, "1. Schizophrenia Schizophrenia is defined by the ICD as a condition that involves significant problems in perceiving reality, difficulty with memory and", 7.25, "#7a7a7a")
text(9, 376, "attention, and changes in behavior and movement.", 7.25, "#7a7a7a")
text(20, 384.5, "Read more: How are mental illnesses defined?", 7.25, "#7a7a7a")
text(20, 393, "Find out how each illness is diagnosed in the International Classification of Diseases manual.", 7.25, "#7a7a7a")


def rect(x0, y0, x1, y1, fill, line=None, width=0.5):
    return dict(type="rect", xref="paper", yref="paper", x0=px(x0), x1=px(x1), y0=py(y0), y1=py(y1),
                fillcolor=fill, line=dict(color=line or fill, width=width))


shapes = [rect(452, 9, 491, 31, "#002147"), rect(452, 29.5, 491, 31, "#ce261e"),
          rect(127, 316, 154.5, 323, no_data_color, "#b5b5b5"),
          rect(10, 389.5, 16, 397, "#6a6a6a"),
          dict(type="line", xref="paper", yref="paper", x0=px(9), x1=px(491), y0=py(352.5), y1=py(352.5),
               line=dict(color="#efefef", width=1))]
for i, col in enumerate(legend_colors):
    shapes.append(rect(edges[i], 316, edges[i + 1], 323, col, "#b5b5b5"))
shapes.append(dict(type="path", xref="paper", yref="paper", fillcolor=legend_colors[-1],
                   line=dict(color=legend_colors[-1], width=0),
                   path=f"M {px(372)} {py(316)} L {px(374)} {py(319.5)} L {px(372)} {py(323)} Z"))

fig.update_layout(width=W, height=H, margin=dict(l=0, r=0, t=0, b=0), paper_bgcolor="white",
                  annotations=notes, shapes=shapes, showlegend=False)
# the page's default body margin would push the chart off the window
fig.write_html("out.html", config={"displayModeBar": False}, post_script="document.body.style.margin='0';")
